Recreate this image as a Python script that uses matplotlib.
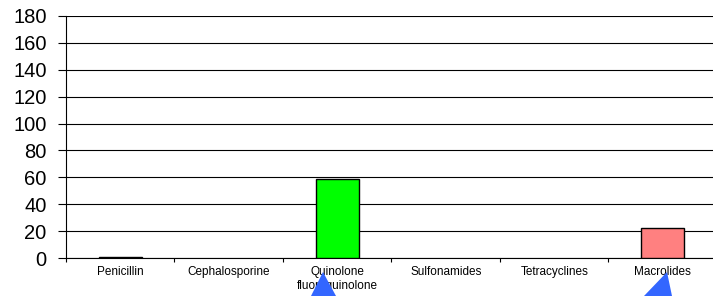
import numpy as np
import matplotlib.pyplot as plt
from matplotlib.patches import Polygon

plt.rcParams['font.family'] = ['Liberation Sans', 'DejaVu Sans']

categories = ['Penicillin', 'Cephalosporine', 'Quinolone\nfluoroquinolone',
              'Sulfonamides', 'Tetracyclines', 'Macrolides']
values = [1, 0, 59, 0, 0, 22]
colors = ['#000000', '#ffffff', '#00ff00', '#ffffff', '#ffffff', '#ff8080']
yticks = np.arange(0, 181, 20)

W, H = 713, 296
fig = plt.figure(figsize=(W/100, H/100), dpi=100)
ax = fig.add_axes([66/W, 1-258/H, 651/W, 242/H])

x = np.arange(len(categories))
lw = [1 if v > 0 else 0 for v in values]
ax.bar(x, values, width=0.4, color=colors, edgecolor='black', linewidth=lw, zorder=3)

ax.set_xlim(-0.5, len(categories)-0.5)
ax.set_ylim(0, 180)
ax.set_yticks(yticks)
ax.tick_params(axis='y', direction='out', length=6, width=0.8, pad=8, labelsize=14.5)
ax.yaxis.grid(True, color='black', linewidth=0.8)
ax.set_axisbelow(True)

ax.set_xticks(np.arange(len(categories)+1)-0.5)
ax.set_xticklabels([])
ax.set_xticks(x, minor=True)
ax.set_xticklabels(categories, minor=True, fontsize=8.5, linespacing=1.2)
ax.tick_params(axis='x', which='major', direction='out', length=3, width=0.8)
ax.tick_params(axis='x', which='minor', length=0, pad=6)

for s in ['top', 'right']:
    ax.spines[s].set_visible(False)
ax.spines['left'].set_linewidth(0.8)
ax.spines['bottom'].set_linewidth(0.8)

# blue pointer triangles overlaid on the labels
blue = '#3366ff'
tri1 = [(311/W, 1-296/H), (336/W, 1-296/H), (323/W, 1-272/H)]
tri2 = [(644/W, 1-296/H), (672/W, 1-296/H), (667/W, 1-272/H)]
for t in (tri1, tri2):
    fig.patches.append(Polygon(t, closed=True, transform=fig.transFigure,
                               facecolor=blue, edgecolor='none', zorder=10))

fig.savefig('out.png', dpi=100)
